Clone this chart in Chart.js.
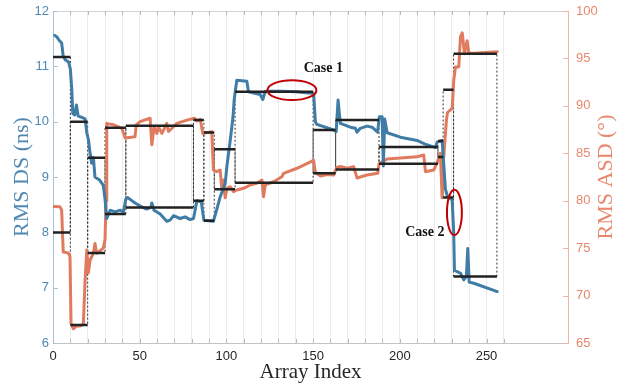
<!DOCTYPE html>
<html>
<head>
<meta charset="utf-8">
<script src="https://cdn.jsdelivr.net/npm/chart.js@4.4.0/dist/chart.umd.min.js"></script>
<style>
  html, body { margin: 0; padding: 0; background: #fff; }
</style>
</head>
<body>
<canvas id="chart" width="631" height="389"></canvas>
<script>
// ─── DATA ───
// RMS delay spread (ns), left axis: [array index, value]
const dsSeries = [
  [1, 11.56], [2.3, 11.53], [3.5, 11.47], [5, 11.42], [5.8, 11.2], [7, 11.12], [9, 11.08],
  [10, 10.95], [10.8, 10.6], [11.4, 10.15], [12.5, 10.12], [13.5, 10.3], [14.5, 10.1],
  [16.5, 10.08], [18.5, 10.05], [19.5, 9.8], [20.5, 9.66], [21.5, 9.4], [22.3, 9.25],
  [23.3, 9.35], [24.2, 9.0], [27, 8.94], [29, 8.85], [30, 8.6], [31, 8.25], [33, 8.4],
  [35.8, 8.37], [38.7, 8.4], [40.6, 8.37], [42, 8.6], [43, 8.63], [46.4, 8.55], [50, 8.48],
  [54, 8.42], [56.5, 8.45], [57, 8.53], [58.3, 8.4], [61.8, 8.33], [65.6, 8.2], [67.5, 8.22],
  [69.5, 8.3], [73.3, 8.25], [76.2, 8.28], [79, 8.23], [81, 8.25], [83, 8.57], [85.5, 8.55],
  [87, 8.22], [92.5, 8.2], [94.5, 8.42], [96.4, 8.64], [99.3, 8.88], [100.3, 9.2],
  [102.2, 9.66], [103.8, 10.08], [104.5, 10.4], [106, 10.75], [111.8, 10.73], [112.7, 10.54],
  [119.5, 10.49], [121, 10.4], [122.4, 10.55], [132, 10.55], [140, 10.54], [150.3, 10.51],
  [151.3, 10.0], [152.2, 9.95], [161.8, 9.85], [163.3, 9.82], [164.4, 10.39], [165.7, 9.97],
  [171.5, 9.9], [174.4, 9.88], [175.3, 9.81], [177.2, 9.88], [181.1, 9.92], [184, 9.9],
  [187.2, 9.81], [188.2, 10.09], [189.8, 10.09], [190.5, 9.2], [191.3, 10.05], [192.7, 9.8],
  [200.3, 9.72], [210, 9.66], [214.2, 9.6], [220.6, 9.53], [221.5, 9.63], [224.4, 9.66],
  [225.4, 9.2], [226.3, 8.78], [227.3, 8.67], [230.2, 8.58], [231.1, 7.98], [231.5, 7.32],
  [233.1, 7.29], [235, 7.26], [236.9, 7.14], [238.4, 7.2], [239.2, 7.71], [240, 7.1],
  [242.7, 7.08], [256.2, 6.93]
];

// RMS angular spread (deg), right axis: [array index, value]
const asdSeries = [
  [0.5, 79.4], [4, 79.37], [5, 79.0], [5.9, 74.6], [8.8, 74.5], [9.8, 74.1], [10.4, 67.1],
  [11.7, 66.5], [13.7, 66.8], [15.6, 66.8], [17.5, 67.0], [18.5, 71.6], [19.5, 74.8],
  [20.4, 72.4], [21.4, 73.75], [23.3, 74.46], [24.2, 75.5], [25.2, 74.46], [27, 74.7],
  [29, 75.0], [30, 75.9], [30.6, 80], [31, 88.16], [32, 88.1], [35, 88.0], [39.7, 87.63],
  [41.6, 86.6], [47.3, 86.75], [48, 88.0], [50.2, 88.33], [56, 88.69], [57, 85.9],
  [58.3, 87.8], [59.9, 87.1], [60.8, 87.8], [62.8, 87.1], [64.7, 87.8], [65.6, 88.16],
  [66.6, 87.3], [69.5, 87.8], [71.4, 88.16], [77.2, 88.5], [81.6, 88.69], [83, 88.4],
  [84.9, 88.58], [86.4, 87.1], [91.6, 87.27], [92.5, 83.24], [94.5, 83.06], [96.4, 83.24],
  [97.4, 81.13], [98.3, 82.18], [99.3, 80.3], [100.3, 81.31], [102.2, 81.48], [104.1, 80.95],
  [106, 81.13], [109.9, 81.31], [113.7, 81.66], [117.6, 81.84], [120.5, 82.18], [121.4, 80.42],
  [122.4, 81.66], [127.2, 82.0], [132, 82.53], [133, 82.89], [140.7, 83.42], [150.3, 84.25],
  [151.3, 83.0], [154.2, 82.6], [158, 82.75], [161.8, 82.7], [163.6, 83.5], [165.7, 83.6],
  [169.6, 83.42], [173.4, 83.59], [175.3, 82.4], [181.1, 82.71], [187.3, 82.9], [188, 83.9],
  [192.7, 84.4], [200.3, 84.5], [210, 84.64], [213.8, 84.82], [214.8, 83.06], [219.6, 83.24],
  [221.5, 84.0], [223.4, 85.0], [224.4, 80.3], [225.2, 84.3], [226.9, 88.5], [227.5, 89.3],
  [230.2, 89.74], [231.1, 92.7], [232.1, 94.1], [234, 94.1], [235, 97.3], [236, 97.7],
  [237.3, 95.5], [238.8, 96.87], [239.8, 95.54], [242.7, 95.54], [256.2, 95.7]
];

// stationary segments and their means
const segStart   = [0, 10, 20, 30, 42, 81, 87, 93, 105, 150, 163, 188, 222, 225, 231];
const segEnd     = [10, 20, 30, 42, 81, 87, 93, 105, 150, 163, 188, 222, 225, 231, 256];
const segDsMean  = [11.17, 10.0, 9.35, 8.33, 8.45, 8.57, 8.21, 9.5, 10.54, 9.85, 10.03, 9.54, 9.65, 8.63, 7.2];
const segAsdMean = [76.65, 66.9, 74.5, 87.7, 87.9, 88.5, 87.2, 81.2, 81.9, 82.9, 83.3, 83.9, 84.6, 91.7, 95.5];

const xTickValues = [0, 10, 20, 30, 40, 50, 60, 70, 80, 90, 100, 110, 120, 130, 140, 150,
                     160, 170, 180, 190, 200, 210, 220, 230, 240, 250, 260];
const xLabelStep = 50;

// annotations: [x, y(left axis), rx, ry] in data units
const caseEllipses = [[137.8, 10.57, 14.1, 0.18], [231.5, 8.36, 4.3, 0.41]];
const caseLabels = [['Case 1', 155.9, 10.96], ['Case 2', 214.4, 7.99]];

const DS_MIN = 6, DS_MAX = 12, ASD_MIN = 65, ASD_MAX = 100;

// ─── COLOURS ───
const BLUE = '#3f7ca6';
const ORANGE = '#e07b5f';
const BLUE_TXT = '#4f88b3';
const ORANGE_TXT = '#e8876c';

function asdOnDsAxis(v) {
    return DS_MIN + (v - ASD_MIN) * (DS_MAX - DS_MIN) / (ASD_MAX - ASD_MIN);
}

const toXY = arr => arr.map(p => ({ x: p[0], y: p[1] }));

function stepLine(means) {
    const pts = [];
    segStart.forEach((s, i) => {
        pts.push({ x: s, y: means[i] }, { x: segEnd[i], y: means[i] }, { x: segEnd[i], y: null });
    });
    return pts;
}

function dottedEdges() {
    const pts = [];
    segStart.forEach((s, i) => {
        [s, segEnd[i]].forEach(x => {
            if (x === 0) return;
            pts.push({ x: x, y: segDsMean[i] }, { x: x, y: asdOnDsAxis(segAsdMean[i]) }, { x: x, y: null });
        });
    });
    return pts;
}

// vertical axes: fixed width, no label overflow padding
function fixWidth(w) {
    return s => { s.width = w; s.paddingTop = 0; s.paddingBottom = 0; };
}

const overlay = {
    id: 'overlay',
    beforeDatasetsDraw(chart) {
        const ctx = chart.ctx, a = chart.chartArea;
        const xs = chart.scales.x, ys = chart.scales.y, ys1 = chart.scales.y1;
        ctx.save();
        ctx.lineWidth = 1;
        ctx.strokeStyle = '#d4d4d4';
        ctx.beginPath();
        ctx.moveTo(a.left, a.top + 0.5);
        ctx.lineTo(a.right, a.top + 0.5);
        ctx.stroke();
        // inside tick marks
        ctx.strokeStyle = '#b9b9b9';
        xs.ticks.forEach(t => {
            const px = Math.round(xs.getPixelForValue(t.value)) + 0.5;
            ctx.beginPath();
            ctx.moveTo(px, a.bottom); ctx.lineTo(px, a.bottom - 4);
            ctx.moveTo(px, a.top); ctx.lineTo(px, a.top + 4);
            ctx.stroke();
        });
        ctx.strokeStyle = '#a9c3d7';
        ys.ticks.forEach(t => {
            const py = Math.round(ys.getPixelForValue(t.value)) + 0.5;
            ctx.beginPath(); ctx.moveTo(a.left, py); ctx.lineTo(a.left + 5, py); ctx.stroke();
        });
        ctx.strokeStyle = '#f0b4a3';
        ys1.ticks.forEach(t => {
            const py = Math.round(ys1.getPixelForValue(t.value)) + 0.5;
            ctx.beginPath(); ctx.moveTo(a.right, py); ctx.lineTo(a.right - 5, py); ctx.stroke();
        });
        ctx.restore();
    },
    afterDatasetsDraw(chart) {
        const ctx = chart.ctx;
        const xs = chart.scales.x, ys = chart.scales.y;
        ctx.save();
        ctx.strokeStyle = '#c00000';
        ctx.lineWidth = 2;
        caseEllipses.forEach(e => {
            const cx = xs.getPixelForValue(e[0]), cy = ys.getPixelForValue(e[1]);
            const rx = Math.abs(xs.getPixelForValue(e[0] + e[2]) - cx);
            const ry = Math.abs(ys.getPixelForValue(e[1] + e[3]) - cy);
            ctx.beginPath();
            ctx.ellipse(cx, cy, rx, ry, 0, 0, Math.PI * 2);
            ctx.stroke();
        });
        ctx.fillStyle = '#111';
        ctx.font = 'bold 14px "Liberation Serif"';
        ctx.textAlign = 'center';
        ctx.textBaseline = 'middle';
        caseLabels.forEach(l => {
            ctx.fillText(l[0], xs.getPixelForValue(l[1]), ys.getPixelForValue(l[2]));
        });
        ctx.restore();
    },
    afterDraw(chart) {
        // right axis title reads bottom-to-top like the left one
        const ctx = chart.ctx, a = chart.chartArea;
        ctx.save();
        ctx.translate(606, (a.top + a.bottom) / 2);
        ctx.rotate(-Math.PI / 2);
        ctx.fillStyle = ORANGE_TXT;
        ctx.font = '22px "Liberation Serif"';
        ctx.textAlign = 'center';
        ctx.textBaseline = 'middle';
        ctx.fillText('RMS ASD (°)', 0, 0);
        ctx.restore();
    }
};

new Chart(document.getElementById('chart'), {
    type: 'line',
    data: {
        datasets: [
            { data: stepLine(segDsMean), yAxisID: 'y', borderColor: '#222', borderWidth: 2.5, pointRadius: 0, spanGaps: false },
            { data: stepLine(segAsdMean), yAxisID: 'y1', borderColor: '#222', borderWidth: 2.5, pointRadius: 0, spanGaps: false },
            { data: toXY(dsSeries), yAxisID: 'y', borderColor: BLUE, borderWidth: 3, pointRadius: 0,
              borderJoinStyle: 'round', borderCapStyle: 'round' },
            { data: toXY(asdSeries), yAxisID: 'y1', borderColor: ORANGE, borderWidth: 3, pointRadius: 0,
              borderJoinStyle: 'round', borderCapStyle: 'round' },
            { data: dottedEdges(), yAxisID: 'y', borderColor: '#333', borderWidth: 1, borderDash: [2, 2],
              pointRadius: 0, spanGaps: false }
        ]
    },
    options: {
        responsive: false,
        devicePixelRatio: 1,
        animation: false,
        layout: { padding: { top: 11, left: 0, right: 0, bottom: 0 } },
        plugins: { legend: { display: false }, tooltip: { enabled: false } },
        scales: {
            x: {
                type: 'linear',
                min: 0,
                max: 297,
                afterBuildTicks: s => { s.ticks = xTickValues.map(v => ({ value: v })); },
                afterFit: s => { s.height = 46; },
                ticks: {
                    autoSkip: false,
                    maxRotation: 0,
                    padding: 6,
                    color: '#262626',
                    font: { family: 'Liberation Sans', size: 13 },
                    callback: v => (v % xLabelStep === 0 ? String(v) : '')
                },
                grid: {
                    drawTicks: false,
                    color: c => (c.tick && c.tick.value === 0 ? 'rgba(0,0,0,0)' : '#ececec')
                },
                border: { color: '#c4c4c4' },
                title: {
                    display: true,
                    text: 'Array Index',
                    color: '#262626',
                    font: { family: 'Liberation Serif', size: 21 },
                    padding: { top: 0, bottom: 4 }
                }
            },
            y: {
                position: 'left',
                min: DS_MIN,
                max: DS_MAX,
                afterFit: fixWidth(53),
                ticks: {
                    stepSize: 1,
                    padding: 4,
                    color: BLUE_TXT,
                    font: { family: 'Liberation Sans', size: 13 }
                },
                grid: { display: false, drawTicks: false },
                border: { color: '#a9c3d7' },
                title: {
                    display: true,
                    text: 'RMS DS (ns)',
                    color: BLUE_TXT,
                    font: { family: 'Liberation Serif', size: 22 },
                    padding: { top: 9, bottom: 0 }
                }
            },
            y1: {
                position: 'right',
                min: ASD_MIN,
                max: ASD_MAX,
                afterFit: fixWidth(63),
                ticks: {
                    stepSize: 5,
                    padding: 8,
                    color: ORANGE_TXT,
                    font: { family: 'Liberation Sans', size: 13 }
                },
                grid: { display: false, drawTicks: false },
                border: { color: '#f0b4a3' }
            }
        }
    },
    plugins: [overlay]
});
</script>
</body>
</html>
